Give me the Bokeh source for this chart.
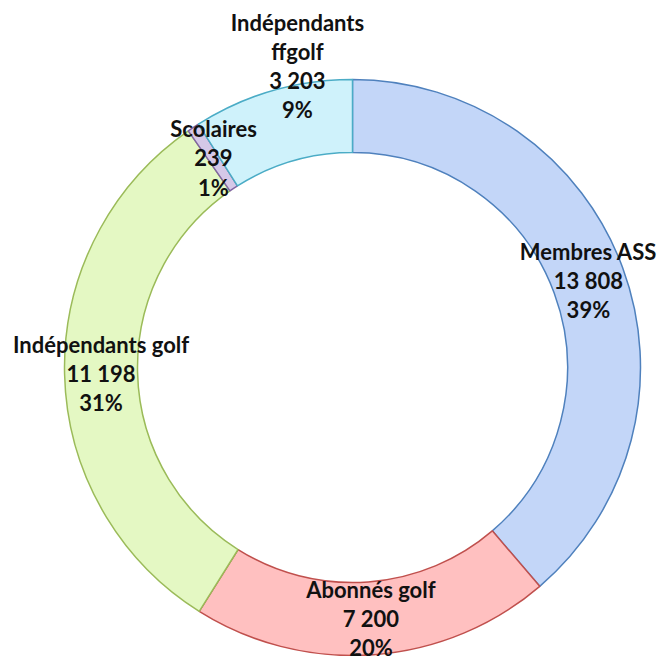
import math
from bokeh.plotting import figure
from bokeh.models import Range1d, ColumnDataSource
from bokeh.core.properties import value
from bokeh.embed import file_html
from bokeh.resources import INLINE

# ---- data ----
categories = ["Membres ASS", "Abonnés golf", "Indépendants golf", "Scolaires", "Indépendants\nffgolf"]
values = [13808, 7200, 11198, 239, 3203]

# ---- styles ----
fill_colors = ["#c3d6f8", "#ffc0c0", "#e4f8c3", "#d5c8e8", "#cff2fb"]
line_colors = ["#4f81bd", "#c0504d", "#9bbb59", "#8064a2", "#4bacc6"]
label_dx = [0, 0, 0, 0, 15]
label_dy = [0, 0, 0, 0, 60]

R_OUT = 288
R_IN = 215
R_LAB = (R_OUT + R_IN) / 2

total = sum(values)
starts, ends, lx, ly, texts = [], [], [], [], []
cum = 0
for i, v in enumerate(values):
    a0 = math.pi / 2 - 2 * math.pi * cum / total
    cum += v
    a1 = math.pi / 2 - 2 * math.pi * cum / total
    starts.append(a0)
    ends.append(a1)
    mid = (a0 + a1) / 2
    lx.append(R_LAB * math.cos(mid) + label_dx[i])
    ly.append(R_LAB * math.sin(mid) + label_dy[i])
    num = f"{v:,}".replace(",", " ")
    pct = round(v / total * 100)
    texts.append(f"{categories[i]}\n{num}\n{pct}%")

src = ColumnDataSource(dict(start=starts, end=ends, fill=fill_colors, line=line_colors))
lab = ColumnDataSource(dict(x=lx, y=ly, text=texts))

p = figure(width=661, height=656, output_backend="svg", toolbar_location=None,
           x_range=Range1d(-352, 309), y_range=Range1d(-289, 367),
           min_border=0)
p.axis.visible = False
p.grid.visible = False
p.outline_line_color = None
p.background_fill_color = "white"
p.border_fill_color = "white"

p.annular_wedge(x=0, y=0, inner_radius=R_IN, outer_radius=R_OUT,
                start_angle="start", end_angle="end", direction="clock",
                fill_color="fill", line_color="line", line_width=1.5, source=src)

p.text(x="x", y="y", text="text", source=lab, text_align="center", text_baseline="middle",
       text_font=value("Lato"), text_font_style="bold", text_font_size="22px",
       text_line_height=1.08, text_color="#111111")

open("out.html", "w").write(file_html(p, INLINE))
